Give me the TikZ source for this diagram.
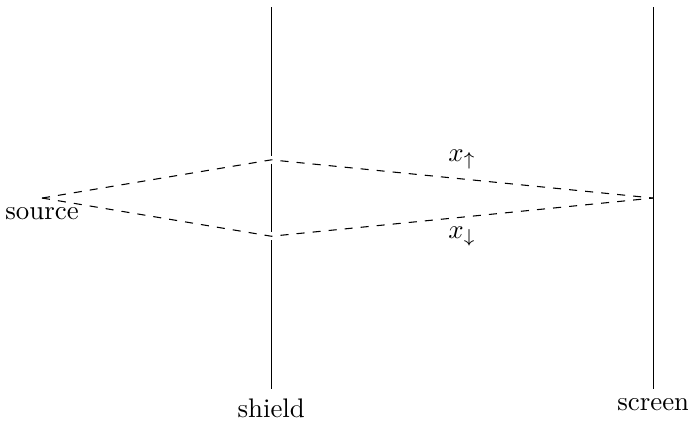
\documentclass[tikz,border=0pt]{standalone}
\begin{document}
\begin{tikzpicture}
        \useasboundingbox (-0.55,-2.919) rectangle (8.455,2.592);
        \coordinate (src) at (0,0);\coordinate (slitup) at (3,0.5);\coordinate (slitdown) at (3,-0.5);\coordinate (hit) at (8,0);
        \coordinate (shieldtop) at (3,2.5);\coordinate (shieldbot) at (3,-2.5);\coordinate (screentop) at (8,2.5);\coordinate (screenbot) at (8,-2.5);
        \draw[] (shieldtop) -- (3,0.55);\draw[] (3,0.45) -- (3,-0.45);\draw[] (3,-0.55) -- (shieldbot);
        \draw[] (screentop) -- (screenbot);
        \draw [dashed] (src) -- (slitup) -- node[above]{$x_\uparrow$} (hit);
        \draw [dashed] (src) -- (slitdown) -- node[below]{$x_\downarrow$} (hit);
        \node[below] (srclabel) at (src) {source};\node[below] (shieldlabel) at (shieldbot) {shield};\node[below] (screenlabel) at (screenbot) {screen};
     \end{tikzpicture}
\end{document}
